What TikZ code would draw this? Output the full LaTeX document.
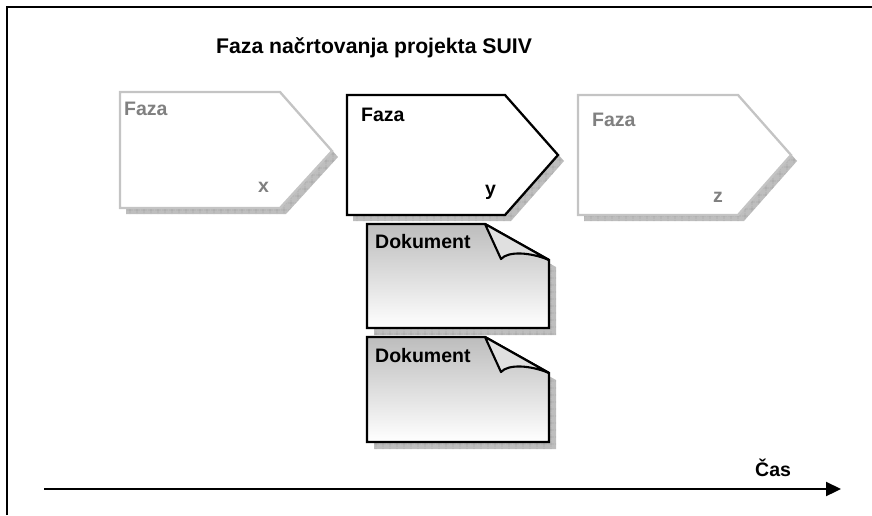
\documentclass[tikz,border=0pt]{standalone}
\usepackage{fontspec}
\setmainfont{Liberation Sans}
\usetikzlibrary{patterns.meta,arrows.meta}
\definecolor{lightline}{HTML}{C4C4C4}
\definecolor{lighttext}{HTML}{808080}
\definecolor{shadowgray}{HTML}{BEBEBE}
\definecolor{shadowmark}{HTML}{8C8C8C}
\tikzset{
  px/.style={x=1pt,y=-1pt},
  shadowfill/.style={fill=shadowgray,postaction={pattern={Hatch[distance=6.5pt,angle=0,line width=0.35pt]},pattern color=shadowmark}},
  phaseline/.style={line width=2.3pt,line join=miter,fill=white},
  docline/.style={line width=2.4pt,line join=miter,top color=black!26,bottom color=white},
  foldline/.style={line width=2.1pt,line join=round,fill=black!12},
  lbl/.style={anchor=base west,inner sep=0pt,font=\bfseries\fontsize{19.5}{22}\selectfont},
  titlelbl/.style={anchor=base west,inner sep=0pt,font=\bfseries\fontsize{21.2}{24}\selectfont}
}
\begin{document}
\begin{tikzpicture}[px]
\useasboundingbox (0,0) rectangle (872,515);
% frame
\draw[line width=2.4pt] (7,515) -- (7,7) -- (872,7);
% title
\node[titlelbl] (title) at (216,53) {Faza načrtovanja projekta SUIV};
% phase x
\path[shadowfill] (126,98) -- (286,98) -- (338,157) -- (286,214) -- (126,214) -- cycle;
\path[phaseline,draw=lightline] (120,92) -- (280,92) -- (332,151) -- (280,208) -- (120,208) -- cycle;
\node[lbl,text=lighttext] (fx) at (124,115) {Faza};
\node[lbl,text=lighttext] (lx) at (258,192) {x};
% phase y
\path[shadowfill] (353,101) -- (511,101) -- (564,161) -- (511,221) -- (353,221) -- cycle;
\path[phaseline,draw=black] (347,95) -- (505,95) -- (558,155) -- (505,215) -- (347,215) -- cycle;
\node[lbl] (fy) at (361,121) {Faza};
\node[lbl] (ly) at (485,195) {y};
% phase z
\path[shadowfill] (584,101) -- (744,101) -- (797,161) -- (744,221) -- (584,221) -- cycle;
\path[phaseline,draw=lightline] (578,95) -- (738,95) -- (791,155) -- (738,215) -- (578,215) -- cycle;
\node[lbl,text=lighttext] (fz) at (592,126) {Faza};
\node[lbl,text=lighttext] (lz) at (713,202) {z};
% document 1
\path[shadowfill] (374,231) -- (492,231) -- (556,267) -- (556,335) -- (374,335) -- cycle;
\path[docline,draw=black] (367,224) -- (485,224) -- (549,260) -- (549,328) -- (367,328) -- cycle;
\path[foldline,draw=black] (485,224) -- (501,259) .. controls (508,251) and (530,252) .. (549,260) -- cycle;
\node[lbl] (d1) at (375,248) {Dokument};
% document 2
\path[shadowfill] (374,344) -- (492,344) -- (556,380) -- (556,449) -- (374,449) -- cycle;
\path[docline,draw=black] (367,337) -- (485,337) -- (549,373) -- (549,442) -- (367,442) -- cycle;
\path[foldline,draw=black] (485,337) -- (501,372) .. controls (508,364) and (530,365) .. (549,373) -- cycle;
\node[lbl] (d2) at (375,362) {Dokument};
% time axis
\coordinate (axs) at (44,489);
\coordinate (axe) at (841,489);
\draw[line width=2.2pt,-{Triangle[length=15pt,width=14pt]}] (axs) -- (axe);
\node[lbl] (cas) at (755,476) {Čas};
\end{tikzpicture}
\end{document}
